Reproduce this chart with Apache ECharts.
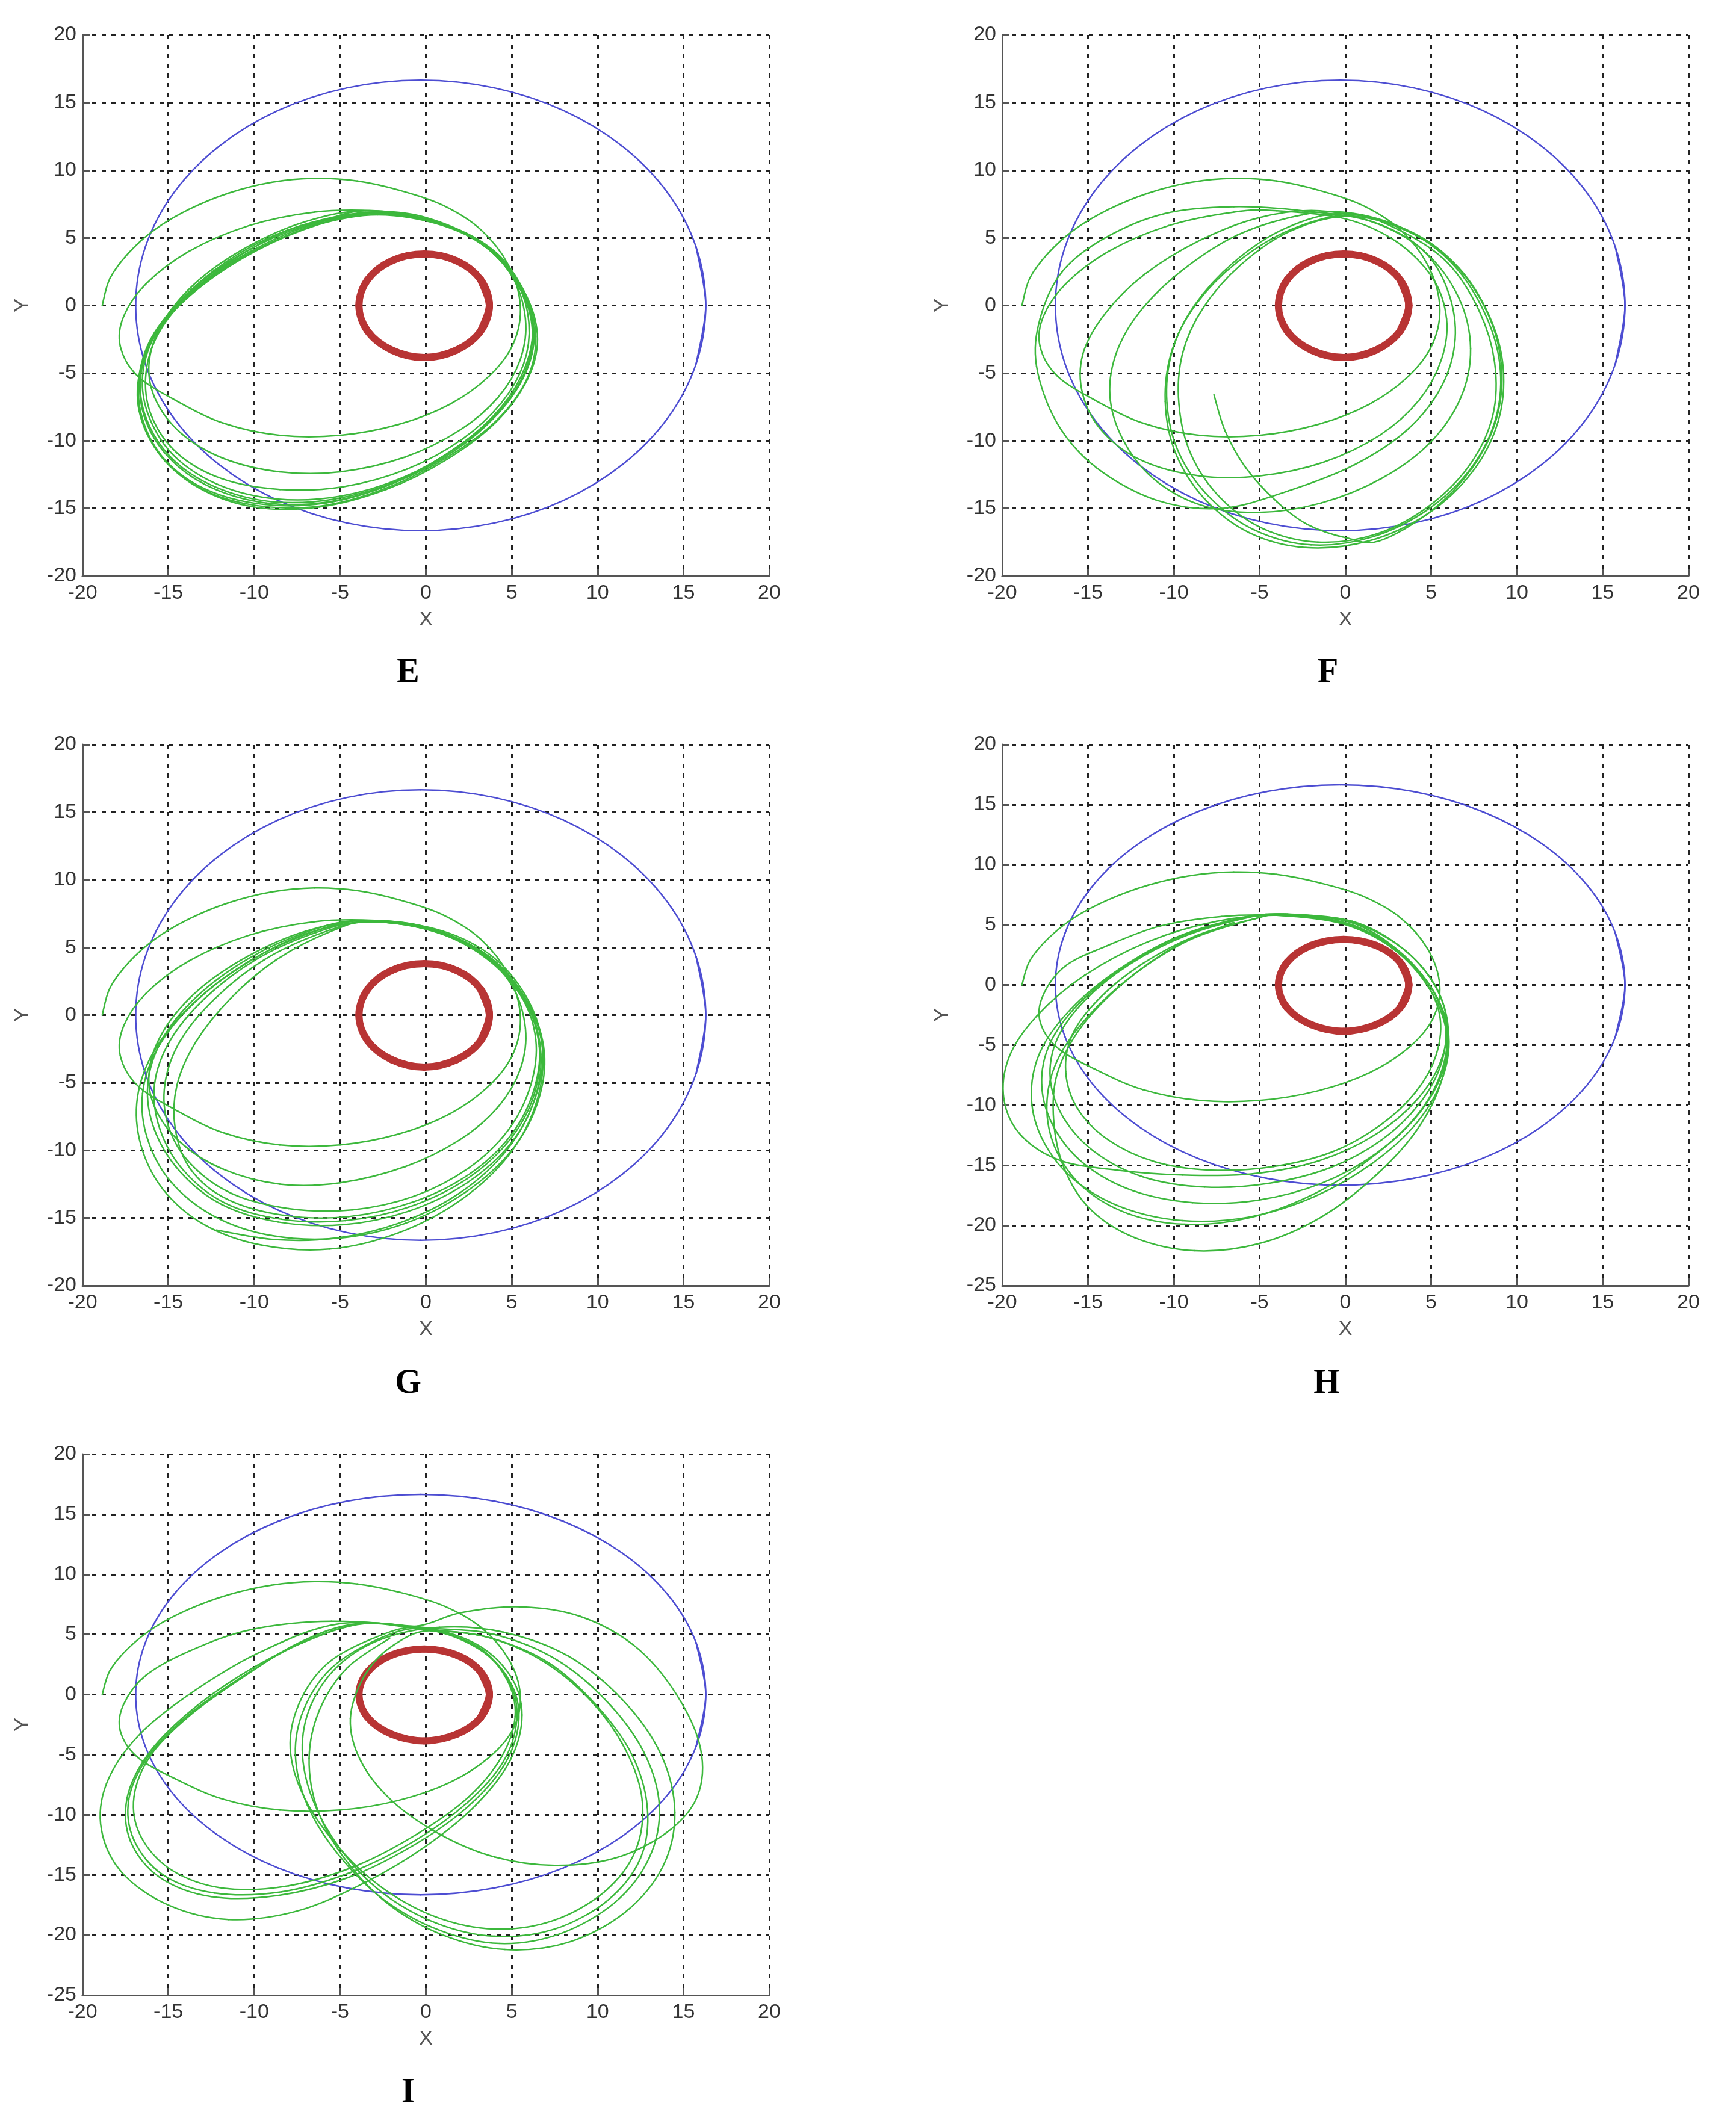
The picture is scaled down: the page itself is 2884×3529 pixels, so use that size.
<!DOCTYPE html>
<html>
<head>
<meta charset="utf-8">
<title>Trajectories E-I</title>
<script src="https://cdn.jsdelivr.net/npm/echarts@6/dist/echarts.min.js"></script>
<style>
html, body { margin: 0; padding: 0; background: #fff; }
#chart { width: 2884px; height: 3529px; }
</style>
</head>
<body>
<div id="chart"></div>
<script>
// tick values
var xTicks = [-20, 20, 5];
var yRangeTop = [-20, 20, 5];   // E, F, G
var yRangeLow = [-25, 20, 5];   // H, I

// blue outer orbit (read around the circle, first/last points overlap to close it)
var blueOrbit = [[15.74,-4.31],[16.3,0],[15.74,4.31],[14.08,8.33],[11.44,11.77],[8.0,14.42],[4.0,16.08],[-0.3,16.65],
  [-4.6,16.08],[-8.6,14.42],[-12.04,11.77],[-14.68,8.33],[-16.34,4.31],[-16.9,0],[-16.34,-4.31],[-14.68,-8.33],
  [-12.04,-11.77],[-8.6,-14.42],[-4.6,-16.08],[-0.3,-16.65],[4.0,-16.08],[8.0,-14.42],[11.44,-11.77],[14.08,-8.33],
  [15.74,-4.31],[16.3,0],[15.74,4.31]];

// red inner body
var redOrbit = [[3.19,-1.9],[3.7,0],[3.19,1.9],[1.8,3.29],[-0.1,3.8],[-2.0,3.29],[-3.39,1.9],[-3.9,0],
  [-3.39,-1.9],[-2.0,-3.29],[-0.1,-3.85],[1.8,-3.29],[3.19,-1.9],[3.7,0],[3.19,1.9]];

// green: common first arc (same start in every panel)
var greenStart = [[-18.85,0],[-18.4,2],[-17.3,3.9],[-15.8,5.6],[-13.8,7.1],[-11.5,8.3],[-9,9.1],[-6.5,9.4],
  [-4,9.2],[-1.5,8.5],[1,7.4],[3.2,5.6],[4.8,3],[5.5,0],[5.1,-2.8],[3.7,-5.2],[1.4,-7.3],[-1.6,-8.8],
  [-5,-9.6],[-8.5,-9.6],[-11.8,-8.7],[-14.6,-7],[-16.8,-5.2],[-17.8,-3],[-17.6,-0.8],[-16.3,1.6]];

var greenE = [
  [-13.8,4],[-10.3,5.9],[-6.5,6.9],
  [-3,7],[0,6.5],[3,4.8],[5,2.2],[5.8,-1],[5.5,-4],[4.2,-6.8],[2,-9.2],[-1.2,-11.2],[-5,-12.3],[-8.5,-12.3],[-11.8,-11.3],[-14.3,-9.4],[-15.8,-6.8],[-16.1,-4],[-15.2,-1],[-13.2,1.9],[-10.3,4.4],[-7,6.2],
  [-3.5,7],[0.5,6.2],[3.5,4.3],[5.4,1.5],[6.2,-1.5],[5.8,-4.5],[4.4,-7.5],[2,-10.3],[-1.3,-12.7],[-5,-14.1],[-8.7,-14.3],[-12,-13.3],[-14.6,-11.2],[-16.1,-8.3],[-16.5,-5.2],[-15.7,-2],[-13.8,1],[-10.8,3.9],[-7.3,5.9],
  [-3,6.9],[1,6],[3.9,4],[5.6,1],[6.3,-2],[5.8,-5],[4.2,-8],[1.6,-10.8],[-1.8,-13.1],[-5.6,-14.5],[-9.3,-14.6],[-12.6,-13.4],[-15,-11.2],[-16.4,-8.2],[-16.6,-5],[-15.6,-1.8],[-13.4,1.2],[-10.2,3.9],[-6.6,5.9],
  [-3.6,7],[0.3,6.3],[3.3,4.5],[5.3,1.7],[6,-1.3],[5.7,-4.3],[4.4,-7.2],[2.1,-9.9],[-1.1,-12.1],[-4.8,-13.4],[-8.5,-13.6],[-11.9,-12.8],[-14.5,-10.9],[-16,-8.1],[-16.3,-5],[-15.5,-1.9],[-13.6,1],[-10.7,3.8],[-7.2,5.9],
  [-2.5,6.8],[1.3,5.8],[4.2,3.7],[5.9,0.6],[6.5,-2.5],[5.9,-5.5],[4.1,-8.6],[1.2,-11.4],[-2.3,-13.6],[-6.2,-14.9],[-10,-14.9],[-13.2,-13.5],[-15.5,-11],[-16.7,-7.8],[-16.6,-4.6],[-15.4,-1.5],[-13,1.5],[-9.8,4.1],[-6.2,6],
  [-2.9,6.9],[1.1,6],[4.1,3.9],[5.8,0.8],[6.4,-2.3],[5.9,-5.4],[4.2,-8.4],[1.4,-11.1],[-2.1,-13.4],[-6,-14.8],[-9.8,-14.8],[-13,-13.6],[-15.4,-11.2],[-16.6,-8],[-16.6,-4.8],[-15.5,-1.6],[-13.2,1.4],[-10,4],[-6.5,5.9],
  [-2.8,6.7],[1,5.9],[4,3.9],[5.7,0.9],[6.3,-2.2],[5.7,-5.2],[4,-8.2],[1.3,-10.9],[-2,-13.2],[-5.8,-14.6],[-9.5,-14.7],[-12.8,-13.6],[-15.2,-11.4],[-16.5,-8.4],[-16.7,-5.2],[-15.8,-2],[-13.6,1.1],[-10.5,3.8],[-6.8,5.9],
  [-3.3,6.8],[0.6,6.1],[3.6,4.2],[5.5,1.2],[6.2,-1.8],[5.8,-4.8],[4.3,-7.8],[1.8,-10.5],[-1.5,-12.9],[-5.3,-14.3],[-9,-14.5],[-12.3,-13.4],[-14.8,-11.3],[-16.3,-8.3],[-16.6,-5.1],[-15.7,-1.9],[-13.7,1.1],[-10.6,3.9],[-7,5.9],[-3.3,6.8]
];

var greenF = [
  [-13.8,4],[-10.3,5.9],[-6.5,6.9],
  [-4,7],[0,6.4],[3,4.7],[5.1,2],[5.9,-1],[5.6,-4],[4.3,-7],[2,-9.6],[-1.3,-11.6],[-5,-12.6],[-8.5,-12.6],[-11.8,-11.5],[-14.1,-9.4],[-15.3,-6.6],[-15.3,-3.6],[-14,-0.6],[-11.7,2.3],[-8.5,4.8],[-5,6.5],
  [-1.5,7],[2,6],[4.6,4],[6,1],[6.4,-2.5],[5.6,-6],[3.6,-9.2],[0.5,-11.8],[-3.3,-13.7],[-7.2,-15],[-11,-14.4],[-14.5,-12],[-16.8,-8.7],[-18,-4.5],[-17.8,-1],[-16.5,2.5],[-14,5],[-10.5,6.8],[-6.5,7.3],
  [-2.5,7],[1.5,6.2],[4.6,4],[6.6,0.6],[7.3,-3.2],[6.7,-6.9],[4.9,-10.2],[2.1,-12.8],[-1.4,-14.6],[-5,-15.3],[-8.3,-14.8],[-11,-13],[-12.8,-10.3],[-13.7,-7],[-13.4,-3.7],[-12,-0.5],[-9.5,2.6],[-6.3,5.2],[-2.5,6.7],
  [0.5,6.8],[3.7,5.5],[6.3,3],[8.1,-0.5],[9,-4.3],[8.8,-8.2],[7.4,-11.9],[4.9,-15],[1.6,-17.1],[-2,-17.7],[-5.3,-16.6],[-7.9,-14.2],[-9.7,-10.9],[-10.4,-7.2],[-10.1,-3.4],[-8.8,0],[-6.5,3.2],[-3.5,5.7],[0,6.8],
  [3.9,5.4],[6.6,2.8],[8.4,-0.8],[9.2,-4.6],[8.9,-8.6],[7.4,-12.3],[4.8,-15.4],[1.4,-17.4],[-2.3,-17.9],[-5.6,-16.8],[-8.2,-14.3],[-9.9,-10.9],[-10.5,-7.1],[-10.1,-3.3],[-8.7,0.1],[-6.3,3.2],[-3.2,5.6],[0.4,6.7],
  [3.4,5.4],[6,3.1],[7.8,-0.4],[8.7,-4.2],[8.6,-8.1],[7.3,-11.7],[4.9,-14.8],[1.8,-16.9],[-1.6,-17.5],[-4.8,-16.5],[-7.3,-14.2],[-9,-11],[-9.7,-7.3],[-9.5,-3.6],[-8.3,-0.2],[-6.1,3],[-3.2,5.5],[0.2,6.6],
  [3.6,5.5],[6.4,3],[8.3,-0.6],[9.1,-4.5],[8.8,-8.4],[7.4,-12],[5,-15.2],[2,-17.4],[0.1,-17.2],[-2.2,-16.2],[-4,-14.5],[-5.8,-12],[-7,-9.3],[-7.66,-6.6]
];

var greenG = [
  [-13.8,4],[-10.3,5.9],[-6.5,6.9],
  [-3,7],[0,6.5],[3,4.8],[5,2.2],[5.8,-1],[5.5,-4],[4.2,-6.8],[2,-9.2],[-1.2,-11.2],[-5,-12.4],[-8.5,-12.5],[-11.8,-11.4],[-14.3,-9.4],[-15.8,-6.8],[-16.1,-4],[-15.2,-1],[-13.2,1.9],[-10.3,4.4],[-7,6.2],
  [-3.5,7],[0.5,6.3],[3.6,4.4],[5.7,1.4],[6.6,-2],[6.3,-5.5],[5,-8.8],[2.6,-11.7],[-0.7,-13.8],[-4.5,-14.9],[-8.3,-14.8],[-11.6,-13.6],[-13.7,-11.4],[-14.6,-8.4],[-14.5,-5.2],[-13.4,-2],[-11.4,1.2],[-8.7,4.1],[-5.5,6.2],
  [-3,7],[1,6.2],[4,4.2],[6,1],[6.8,-2.5],[6.4,-6],[5,-9.4],[2.4,-12.4],[-1,-14.5],[-4.8,-15.5],[-8.6,-15.3],[-11.9,-14],[-14.3,-11.6],[-15.8,-8.5],[-16.2,-5.2],[-15.4,-1.9],[-13.4,1.3],[-10.3,4.2],[-6.8,6.2],
  [-3.8,7],[0.2,6.3],[3.3,4.4],[5.5,1.5],[6.4,-1.8],[6.1,-5.2],[4.8,-8.5],[2.5,-11.3],[-0.7,-13.4],[-4.3,-14.4],[-8,-14.3],[-11.3,-13.2],[-13.7,-11],[-15,-8.2],[-15.2,-5.1],[-14.3,-1.9],[-12.3,1.2],[-9.4,4.1],[-6,6.1],
  [-3.2,6.9],[0.8,6.1],[3.9,4.1],[6,0.8],[6.9,-2.8],[6.5,-6.5],[5,-10],[2.3,-13.1],[-1.2,-15.4],[-5.1,-16.5],[-9,-16.3],[-12.3,-14.9],[-14.8,-12.4],[-16.2,-9.2],[-16.5,-5.8],[-15.6,-2.4],[-13.5,0.9],[-10.4,3.9],[-6.9,6],
  [-3.6,7],[0.4,6.2],[3.5,4.3],[5.7,1.2],[6.6,-2.3],[6.3,-5.9],[4.9,-9.2],[2.4,-12.1],[-1,-14.2],[-4.7,-15.2],[-8.4,-15.1],[-11.7,-13.9],[-14.1,-11.5],[-15.5,-8.4],[-15.8,-5.1],[-14.9,-1.9],[-12.9,1.2],[-9.9,4.1],[-6.4,6.1],
  [-3.4,6.9],[0.6,6.2],[3.8,4.2],[5.9,1],[6.8,-2.6],[6.4,-6.6],[4.8,-10.4],[2,-13.7],[-1.6,-16.1],[-5.6,-17.3],[-9.6,-17],[-12.9,-15.5],[-15.3,-12.9],[-16.6,-9.6],[-16.8,-6.1],[-15.8,-2.6],[-13.6,0.8],[-10.5,3.8],[-7,6],
  [-3.3,6.9],[0.7,6.1],[3.8,4.1],[5.9,0.8],[6.7,-2.9],[6.2,-6.7],[4.5,-10.3],[1.8,-13.3],[-1.6,-15.4],[-5.3,-16.5],[-8.8,-16.6],[-12.2,-15.9]
];

var greenH = [
  [-14,3.2],[-10.8,4.9],[-7.2,5.7],
  [-4,5.8],[0,5.4],[2.6,3.3],[4.5,0.6],[5.5,-2.5],[5.3,-5.8],[4.1,-8.9],[2,-11.7],[-0.8,-13.9],[-4.2,-15.1],[-7.8,-15.4],[-11.1,-14.7],[-13.8,-12.9],[-15.6,-10.3],[-16.3,-7.2],[-15.9,-4.1],[-14.4,-1.2],[-11.9,1.7],[-8.7,4.1],[-5.3,5.5],
  [-3.5,5.9],[0.3,5.2],[2.9,3.1],[4.8,0.2],[5.8,-3],[5.6,-6.5],[4.3,-9.9],[2.1,-12.9],[-0.9,-15.2],[-4.5,-16.5],[-8.2,-16.8],[-11.7,-16],[-14.5,-14],[-16.4,-11.1],[-17.2,-7.8],[-16.8,-4.5],[-15.2,-1.3],[-12.6,1.7],[-9.3,4.1],[-5.7,5.6],
  [-3.6,5.9],[0.2,5.3],[3,3.4],[5,0.5],[5.9,-2.8],[5.6,-6.2],[4.2,-9.5],[1.8,-12.4],[-1.5,-14.6],[-5.4,-15.7],[-9.5,-15.8],[-13.3,-15.4],[-16.6,-14.6],[-18.9,-12.5],[-19.9,-9.5],[-19.6,-6],[-18,-2.6],[-15.2,0.8],[-11.5,3.6],[-7.5,5.3],
  [-3.6,5.8],[0.2,5.1],[2.8,3],[4.9,0],[5.9,-3.5],[5.6,-7.2],[4.2,-10.8],[1.8,-14],[-1.4,-16.5],[-5.1,-17.9],[-8.9,-18.1],[-12.4,-17.1],[-15.2,-14.9],[-17,-11.8],[-17.7,-8.3],[-17.2,-4.8],[-15.5,-1.5],[-12.8,1.6],[-9.5,4.1],[-5.8,5.6],
  [-3.4,5.9],[0.4,5.3],[3.2,3.2],[5.2,0],[6,-3.6],[5.6,-7.5],[4,-11.2],[1.3,-14.6],[-2,-17.5],[-5.7,-19.4],[-9.4,-19.9],[-12.7,-19],[-15.3,-16.8],[-16.9,-13.6],[-17.4,-10],[-16.8,-6.3],[-15,-2.6],[-12.3,0.9],[-9,3.8],[-5.3,5.5],
  [-3.8,5.8],[0,5.1],[2.9,3],[5,-0.2],[6,-3.8],[5.7,-7.6],[4.2,-11.4],[1.6,-14.8],[-1.8,-17.6],[-5.6,-19.3],[-9.5,-19.6],[-13,-18.5],[-15.8,-16.2],[-17.6,-13],[-18.3,-9.4],[-17.8,-5.6],[-16,-2],[-13.2,1.3],[-9.8,4],[-6,5.6],
  [-4,5.8],[-0.2,5.1],[2.8,3],[4.9,-0.3],[5.9,-4],[5.6,-8],[4.2,-12],[1.8,-15.8],[-1.4,-19.3],[-5,-21.5],[-8.8,-22.1],[-12.3,-21],[-14.9,-18.6],[-16.4,-15.2],[-17,-11.3],[-16.8,-7.4],[-15.4,-3.5],[-12.9,0.2],[-9.8,3.3],[-6.5,5.2]
];

var greenI = [
  [-13.8,3.6],[-10.2,5.4],[-5.5,6.1],
  [-0.2,5.5],[3,4],[4.7,1.3],[5.2,-1.8],[4.4,-5.2],[2.5,-8.5],[-0.4,-11.5],[-4,-14.2],[-8,-15.9],[-11.8,-16.1],[-14.8,-14.6],[-16.6,-11.8],[-17,-8.5],[-16,-5],[-13.8,-1.8],[-10.8,1.3],[-7.4,4.3],[-4,5.9],
  [0,5.4],[3.5,4.8],[6.8,2.8],[9.6,-0.5],[11.6,-4.5],[12.6,-8.8],[12.2,-13],[10.4,-16.4],[7.4,-18.8],[4,-19.5],[0.6,-18.5],[-2.6,-16],[-5.2,-12.5],[-7.1,-8.5],[-7.9,-4.5],[-7.4,-0.8],[-5.8,2.5],[-3.2,4.6],
  [-0.5,5.6],[2.8,4.3],[4.9,1.6],[5.6,-1.7],[4.9,-5.5],[2.9,-9.2],[0,-12.6],[-3.5,-15.6],[-7.5,-18],[-11.5,-18.7],[-15,-17.5],[-17.7,-14.8],[-18.9,-11.2],[-18.6,-7.4],[-16.8,-3.5],[-13.8,0],[-9.7,3.5],[-5,5.9],
  [0.5,5.5],[4,5],[7.5,3],[10.5,-0.5],[12.7,-4.8],[13.6,-9.3],[13,-13.6],[11,-17.3],[7.8,-19.9],[4.3,-20.7],[0.8,-19.6],[-2.5,-17],[-5.1,-13.3],[-6.9,-9.2],[-7.6,-5],[-7.1,-1.2],[-5.5,2.2],[-2.8,4.6],
  [-0.2,5.5],[2.9,4],[4.8,1.2],[5.3,-2],[4.5,-5.6],[2.4,-9],[-0.7,-12.2],[-4.4,-14.8],[-8.4,-16.4],[-12.3,-16.5],[-15.3,-15],[-17,-12.1],[-17.3,-8.7],[-16.2,-5.2],[-14,-1.9],[-10.9,1.3],[-7.4,4.2],[-3.8,5.9],
  [-0.5,5.7],[2,6.8],[5.5,7.3],[9,6.5],[12.2,4],[14.6,0],[16,-4.5],[15.8,-8.5],[14,-11.5],[11,-13.6],[7.5,-14.2],[4,-13.5],[0.8,-11.6],[-2,-8.8],[-3.8,-5.5],[-4.4,-2],[-3.6,1.5],[-2,4],
  [0.3,5.3],[3.3,3.6],[5,0.8],[5.4,-2.4],[4.5,-6],[2.3,-9.5],[-0.8,-12.6],[-4.5,-15.2],[-8.6,-16.7],[-12.5,-16.8],[-15.5,-15.2],[-17.2,-12.2],[-17.4,-8.6],[-16.2,-5],[-13.9,-1.6],[-10.8,1.6],[-7.2,4.3],[-3.6,5.9],
  [0.3,5.4],[3.8,4.7],[7.2,2.6],[10,-1],[12,-5],[12.9,-9.4],[12.5,-13.6],[10.6,-17.1],[7.5,-19.5],[4,-20.1],[0.6,-19],[-2.6,-16.4],[-5,-12.8],[-6.6,-8.7],[-7.2,-4.6],[-6.7,-0.9],[-5.1,2.4],[-2.6,4.6],
  [0.8,5.6],[4.5,5.2],[8.3,3.2],[11.5,-0.5],[13.7,-5],[14.5,-9.8],[13.8,-14.3],[11.6,-18.1],[8.3,-20.6],[4.6,-21.2],[1,-20],[-2.2,-17.4],[-4.7,-13.7],[-6.3,-9.6],[-6.8,-5.3],[-6.2,-1.3],[-4.6,2.2],[-2.1,4.7]
];

// panel layout (pixels) and which data goes where
var panels = [
  { label: 'E', grid: { left: 137, top: 58, width: 1141, height: 899 }, yr: yRangeTop, green: greenE, lx: 678, ly: 1119 },
  { label: 'F', grid: { left: 1665, top: 58, width: 1140, height: 899 }, yr: yRangeTop, green: greenF, lx: 2206, ly: 1119 },
  { label: 'G', grid: { left: 137, top: 1237, width: 1141, height: 899 }, yr: yRangeTop, green: greenG, lx: 678, ly: 2300 },
  { label: 'H', grid: { left: 1665, top: 1237, width: 1140, height: 899 }, yr: yRangeLow, green: greenH, lx: 2204, ly: 2300 },
  { label: 'I', grid: { left: 137, top: 2416, width: 1141, height: 899 }, yr: yRangeLow, green: greenI, lx: 678, ly: 3478 }
];

var labelFont = 'Liberation Sans';
var grids = [], xAxes = [], yAxes = [], series = [], graphics = [];

function axisCommon() {
  return {
    type: 'value',
    axisLine: { show: true, onZero: false, lineStyle: { color: '#555', width: 3 } },
    axisTick: { show: true, inside: true, length: 12, lineStyle: { color: '#555', width: 3 } },
    splitLine: { show: true, lineStyle: { color: '#222', width: 3, type: [7, 9] } },
    nameLocation: 'middle',
    nameTextStyle: { fontSize: 34, color: '#555', fontFamily: labelFont }
  };
}

// smooth curve through the read points: each item draws the piece to the next point,
// positions come from the axes via api.coord
function curveSeries(idx, pts, color, width, z) {
  return {
    type: 'custom', xAxisIndex: idx, yAxisIndex: idx, data: pts, z: z, silent: true,
    encode: { x: 0, y: 1 },
    renderItem: function (params, api) {
      var k = params.dataIndex, n = pts.length;
      if (k >= n - 1) return { type: 'group', children: [] };
      var p0 = api.coord(pts[Math.max(k - 1, 0)]);
      var p1 = api.coord(pts[k]);
      var p2 = api.coord(pts[k + 1]);
      var p3 = api.coord(pts[Math.min(k + 2, n - 1)]);
      return {
        type: 'bezierCurve',
        shape: {
          x1: p1[0], y1: p1[1], x2: p2[0], y2: p2[1],
          cpx1: p1[0] + (p2[0] - p0[0]) / 6, cpy1: p1[1] + (p2[1] - p0[1]) / 6,
          cpx2: p2[0] - (p3[0] - p1[0]) / 6, cpy2: p2[1] - (p3[1] - p1[1]) / 6
        },
        style: { fill: null, stroke: color, lineWidth: width, lineCap: 'round' }
      };
    }
  };
}

panels.forEach(function (p, i) {
  grids.push(Object.assign({ containLabel: false, outerBoundsMode: 'none' }, p.grid));

  var xa = axisCommon();
  xa.gridIndex = i;
  xa.min = xTicks[0]; xa.max = xTicks[1]; xa.interval = xTicks[2];
  xa.name = 'X';
  xa.nameGap = 56;
  xa.axisLabel = { fontSize: 34, color: '#333', fontFamily: labelFont, margin: 12,
    showMinLabel: true, showMaxLabel: true, hideOverlap: false };
  xAxes.push(xa);

  var ya = axisCommon();
  ya.gridIndex = i;
  ya.min = p.yr[0]; ya.max = p.yr[1]; ya.interval = p.yr[2];
  ya.name = 'Y';
  ya.nameGap = 82;
  ya.axisLabel = { fontSize: 34, color: '#333', fontFamily: labelFont, margin: 10,
    showMinLabel: true, showMaxLabel: true, hideOverlap: false };
  yAxes.push(ya);

  series.push(curveSeries(i, blueOrbit, '#4d4dd2', 2.5, 2));
  series.push(curveSeries(i, redOrbit, '#b83434', 12, 3));
  series.push(curveSeries(i, greenStart.concat(p.green), '#3cb83c', 2.5, 4));

  graphics.push({
    type: 'text', x: p.lx, y: p.ly,
    style: { text: p.label, fontSize: 56, fontWeight: 'bold', fontFamily: 'Liberation Serif',
      fill: '#000', align: 'center', verticalAlign: 'middle' }
  });
});

var chart = echarts.init(document.getElementById('chart'));
chart.setOption({
  animation: false,
  backgroundColor: '#fff',
  grid: grids,
  xAxis: xAxes,
  yAxis: yAxes,
  series: series,
  graphic: graphics
});
</script>
</body>
</html>
